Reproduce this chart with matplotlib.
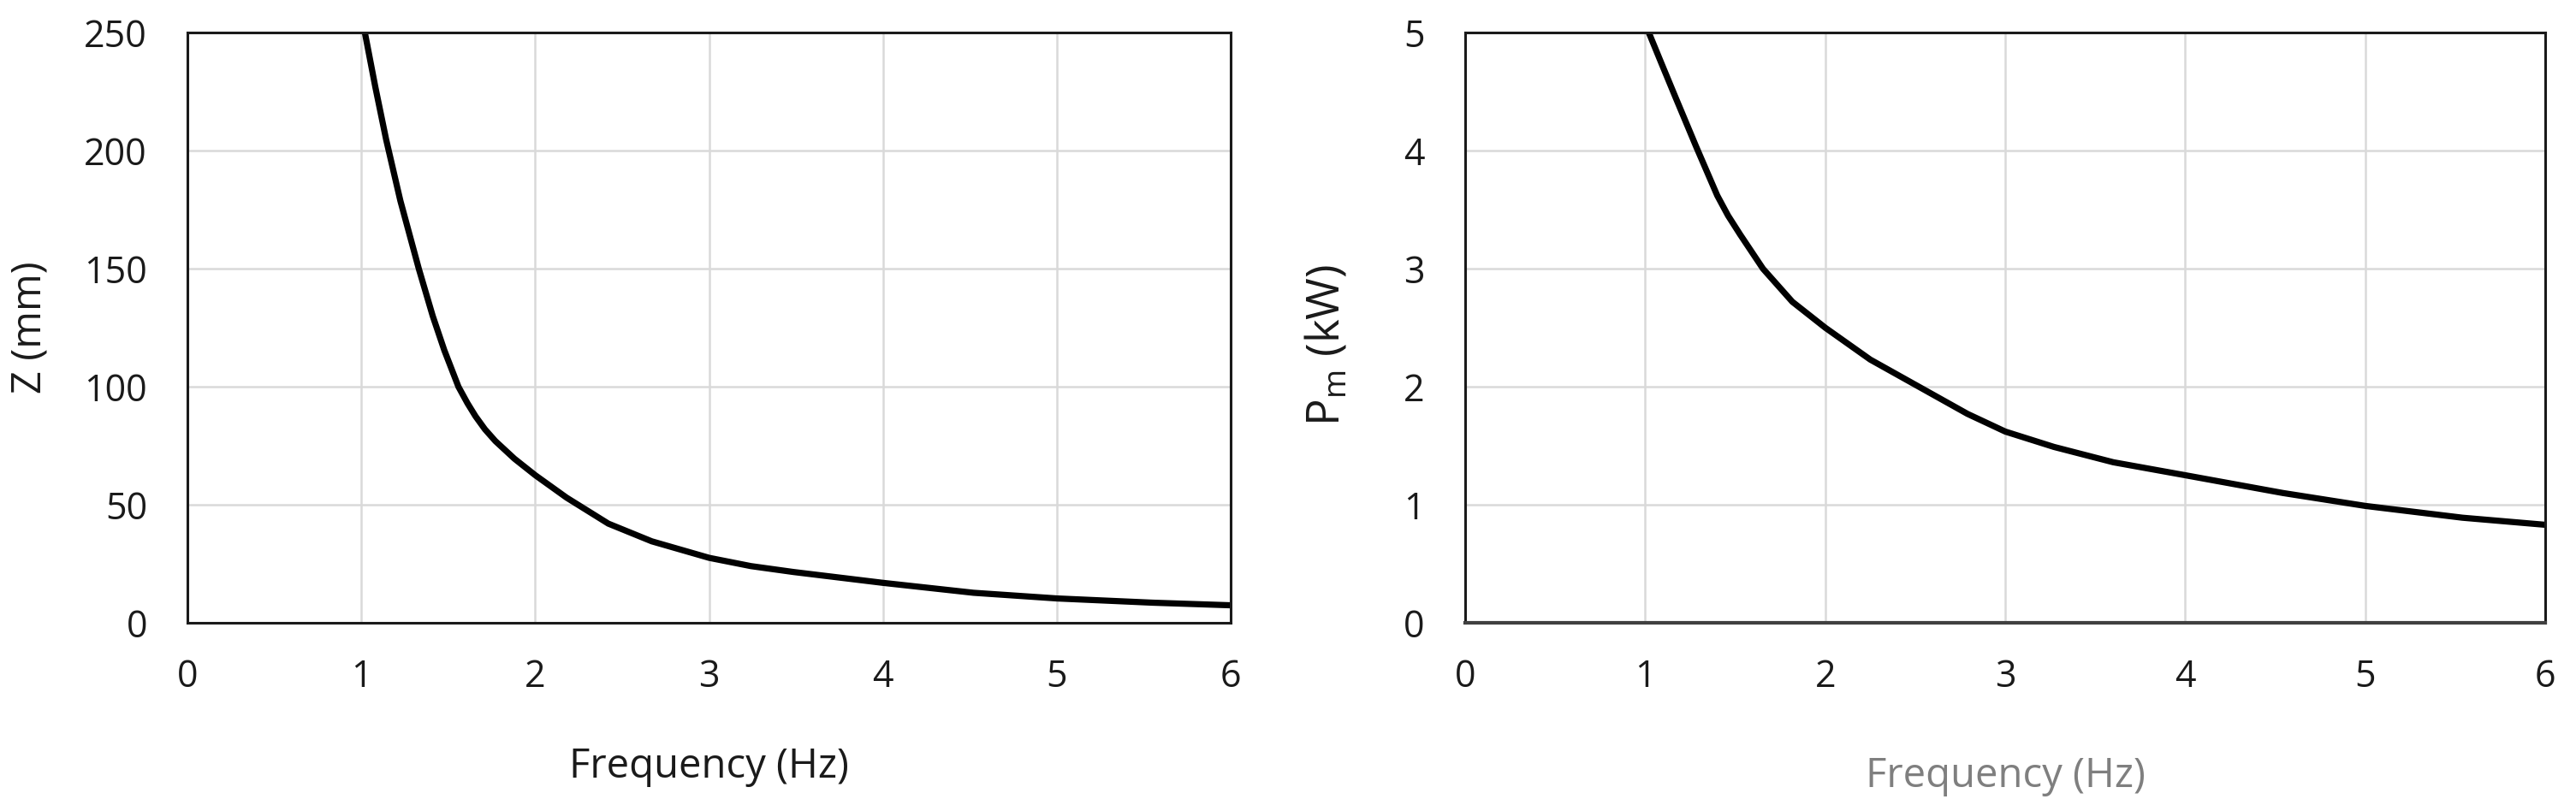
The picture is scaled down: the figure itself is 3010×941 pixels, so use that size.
import matplotlib
matplotlib.use("Agg")
import matplotlib.pyplot as plt

plt.rcParams['font.family'] = ['Open Sans', 'DejaVu Sans']
plt.rcParams['mathtext.fontset'] = 'custom'
plt.rcParams['mathtext.rm'] = 'Open Sans'

# Left panel: displacement amplitude Z (mm) vs frequency
freq_z = [1.02, 1.08, 1.142, 1.224, 1.33, 1.41, 1.477, 1.558, 1.61, 1.656, 1.71, 1.77,
          1.88, 2.0, 2.18, 2.42, 2.67, 3.0, 3.24, 3.485, 4.0, 4.52, 5.0, 5.55, 6.0]
z_mm = [250, 227, 204.8, 178.8, 150, 130, 115.4, 100, 93, 87.5, 82, 77,
        69.5, 62.5, 53, 42, 34.5, 27.5, 24, 21.5, 16.9, 12.7, 10.3, 8.5, 7.4]

# Right panel: mechanical power Pm (kW) vs frequency
freq_p = [1.02, 1.09, 1.166, 1.284, 1.40, 1.46, 1.527, 1.654, 1.817, 2.0, 2.25, 2.52,
          2.79, 3.0, 3.27, 3.6, 4.0, 4.54, 5.0, 5.54, 6.0]
p_kw = [5.0, 4.74, 4.46, 4.03, 3.62, 3.45, 3.29, 3.0, 2.72, 2.50, 2.23, 2.0,
        1.77, 1.62, 1.49, 1.36, 1.25, 1.10, 0.99, 0.89, 0.83]

xticks = [0, 1, 2, 3, 4, 5, 6]
z_ticks = [0, 50, 100, 150, 200, 250]
p_ticks = [0, 1, 2, 3, 4, 5]

fig = plt.figure(figsize=(30.10, 9.41), dpi=100)
ax1 = fig.add_axes([0.0728, 0.2264, 0.405, 0.733])
ax2 = fig.add_axes([0.5688, 0.2264, 0.4193, 0.733])

def style(ax):
    ax.set_xlim(0, 6)
    ax.set_xticks(xticks)
    ax.grid(True, color='#d9d9d9', linewidth=1.8)
    ax.set_axisbelow(True)
    for s in ax.spines.values():
        s.set_color('#1a1a1a')
        s.set_linewidth(2.2)
    ax.tick_params(axis='both', length=0, labelsize=31, colors='#1a1a1a')
    ax.tick_params(axis='x', pad=30)
    ax.tick_params(axis='y', pad=34)

ax1.plot(freq_z, z_mm, color='black', linewidth=5.2,
         solid_capstyle='butt', solid_joinstyle='round')
style(ax1)
ax1.set_ylim(0, 250)
ax1.set_yticks(z_ticks)
ax1.set_ylabel('Z (mm)', fontsize=34, color='#1a1a1a')
ax1.yaxis.set_label_coords(-0.132, 0.5)
ax1.set_xlabel('Frequency (Hz)', fontsize=34, color='#1a1a1a')
ax1.xaxis.set_label_coords(0.5, -0.21)

ax2.plot(freq_p, p_kw, color='black', linewidth=5.2,
         solid_capstyle='butt', solid_joinstyle='round')
style(ax2)
ax2.set_ylim(0, 5)
ax2.set_yticks(p_ticks)
ax2.spines['bottom'].set_color('#404040')
ax2.spines['bottom'].set_linewidth(3)
ax2.set_ylabel(r'P$_\mathregular{m}$ (kW)', fontsize=38, color='#1a1a1a')
ax2.yaxis.set_label_coords(-0.106, 0.47)
ax2.set_xlabel('Frequency (Hz)', fontsize=34, color='#7f7f7f')
ax2.xaxis.set_label_coords(0.5, -0.225)

fig.savefig('out.png', dpi=100, facecolor='white')
